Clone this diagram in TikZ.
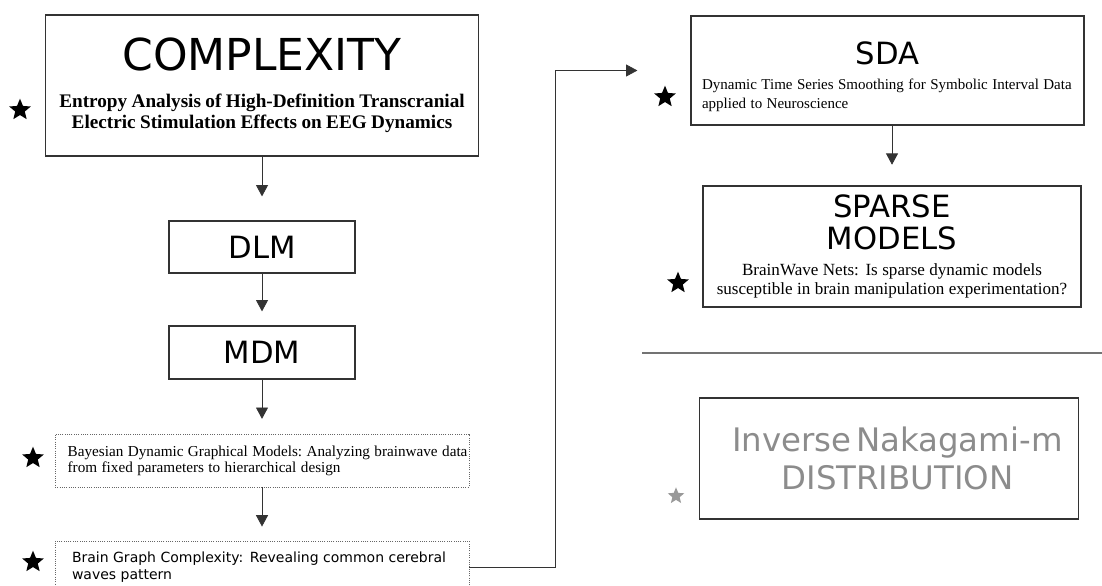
\documentclass[tikz,border=0pt]{standalone}
\usepackage{fontspec}
\setmainfont{Liberation Serif}
\setsansfont{DejaVu Sans}
\usetikzlibrary{positioning, arrows.meta, shapes.geometric}

\begin{document}
\begin{tikzpicture}[
    x=0.75pt, y=-0.75pt,    % 画像のピクセル座標をそのまま使う
    >=Triangle,             % 塗りつぶしの三角矢じり
    box/.style={draw=black!80, line width=0.9pt, inner xsep=0pt, inner ysep=0pt},
    dotbox/.style={draw=black!60, densely dotted, line width=0.7pt, inner ysep=0pt},
    pubstar/.style={star, star points=5, star point ratio=2.25, fill=black, inner sep=0pt, minimum size=17pt},
    link/.style={line width=0.6pt, draw=black!80, arrows={-Triangle[length=8.5pt, width=9pt]}}
]

    % 余白を含めた全体の大きさ
    \useasboundingbox (0,0) rectangle (1102,585);

    % --- 1. 左側の列 ---
    \node [box, minimum width=324.75pt, minimum height=105.75pt, text width=320pt] (cx) at (262,85.5)
        {\centering{\sffamily\fontsize{33}{40}\selectfont COMPLEXITY\par}\vspace{12pt}
         \bfseries\fontsize{14.4}{15.8}\selectfont Entropy Analysis of High-Definition Transcranial\\
         Electric Stimulation Effects on EEG Dynamics\par};
    \node [box, minimum width=139.5pt, minimum height=39pt, font=\sffamily\fontsize{23}{27}\selectfont] (dlm) at (262,247)
        {DLM};
    \node [box, minimum width=139.5pt, minimum height=39.75pt, font=\sffamily\fontsize{23}{27}\selectfont] (mdm) at (262,352.5)
        {MDM};
    \node [dotbox, minimum height=39.75pt, inner xsep=9.5pt, text width=291.5pt] (bdgm) at (262,460.5)
        {\raggedright\fontsize{11.4}{12}\selectfont \mbox{Bayesian Dynamic Graphical Models:\ Analyzing brainwave data}\\
         from fixed parameters to hierarchical design\par\vspace{4pt}};
    \node [dotbox, minimum height=39pt, inner xsep=12.75pt, text width=285pt] (bgc) at (262,567)
        {\raggedright\sffamily\fontsize{10.5}{12.5}\selectfont Brain Graph Complexity: Revealing common cerebral\\
         waves pattern\par};

    % --- 2. 右側の列 ---
    \node [box, minimum width=294.75pt, minimum height=81.75pt, text width=278.25pt] (sda) at (887.5,70.5)
        {{\centering\sffamily\fontsize{23}{27}\selectfont\rule{0pt}{26pt}SDA\par}\vspace{4.5pt}
         \raggedright\fontsize{11.25}{14.2}\selectfont Dynamic Time Series Smoothing for Symbolic Interval Data\\
         applied to Neuroscience\par};
    \node [box, minimum width=283.5pt, minimum height=90.75pt, text width=280pt] (sparse) at (892,246.5)
        {\centering{\sffamily\fontsize{23}{24}\selectfont SPARSE\\MODELS\par}\vspace{5.8pt}
         \fontsize{12.8}{14.3}\selectfont BrainWave Nets: Is sparse dynamic models\\
         susceptible in brain manipulation experimentation?\par};

    % 区切り線
    \draw [black!55, line width=1.1pt] (642,353) -- (1102,353);

    \node [box, minimum width=284.25pt, minimum height=90.75pt, text width=280pt, text=black!45] (inm) at (889,458.5)
        {\centering\leftskip=12.75pt plus 1fil\sffamily\fontsize{24.3}{28}\selectfont Inverse Nakagami-m\\DISTRIBUTION\par};

    % --- 3. 星印 ---
    \node [pubstar] (star_cx) at (20,110) {};
    \node [pubstar] (star_bdgm) at (33,458) {};
    \node [pubstar] (star_bgc) at (33,562) {};
    \node [pubstar] (star_sda) at (665,97) {};
    \node [pubstar] (star_sparse) at (678,283) {};
    \node [pubstar, fill=black!40, minimum size=13pt] (star_inm) at (676,496) {};

    % --- 4. 矢印 ---
    \draw [link, shorten >=18pt] (cx) -- (dlm);
    \draw [link, shorten >=10.5pt] (dlm) -- (mdm);
    \draw [link, shorten >=11pt] (mdm) -- (bdgm);
    \draw [link, shorten >=10.5pt] (bdgm) -- (bgc);
    \draw [link, shorten >=15.5pt] (sda.south -| sparse.north) -- (sparse.north);

    % 左下から右上への折れ線
    \coordinate (turn) at (555,0);
    \draw [link, shorten >=39.75pt] (bgc.east) -| (turn |- sda.west) -- (sda.west);

\end{tikzpicture}
\end{document}
